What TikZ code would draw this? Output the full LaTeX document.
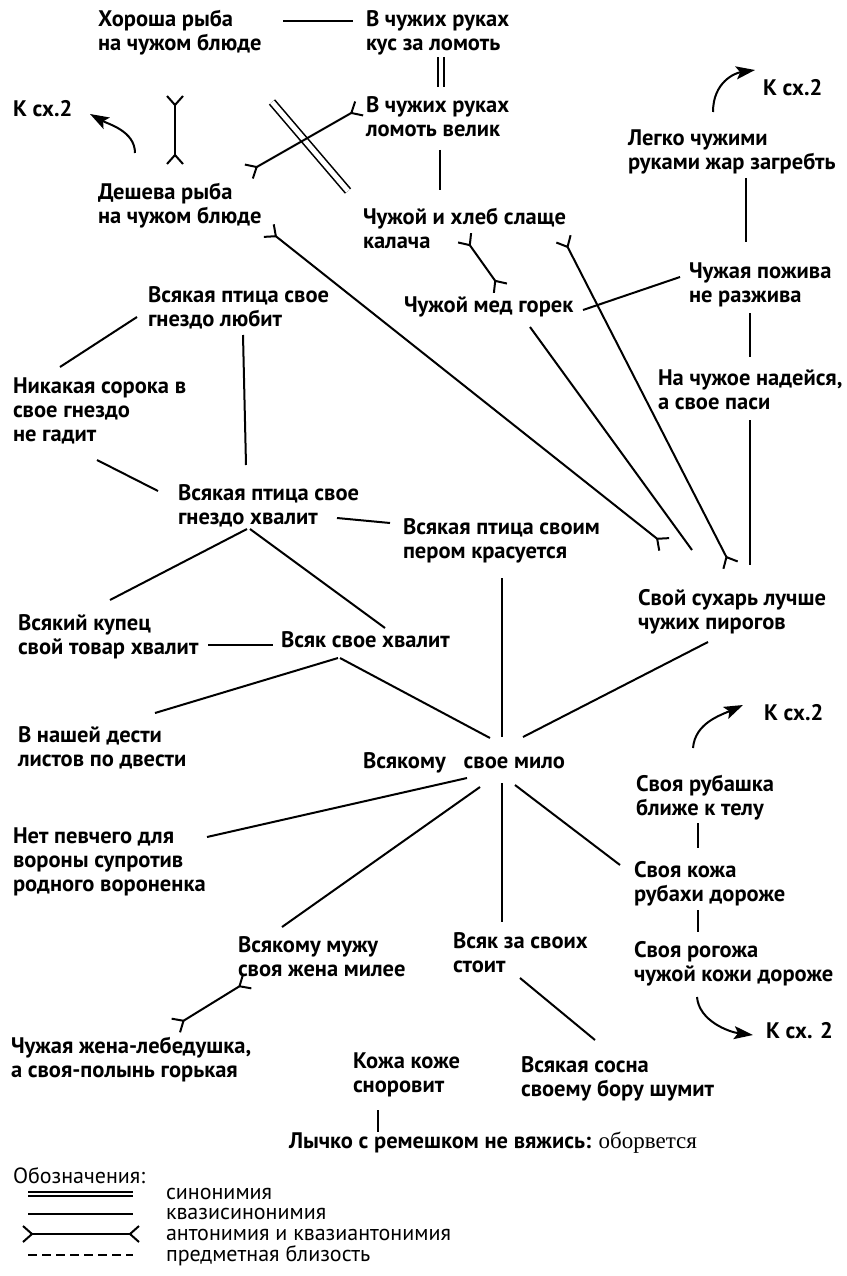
\documentclass[tikz,border=0pt]{standalone}
\usepackage{fontspec}
\setmainfont{PT Sans}
\newfontfamily\serifrm{Liberation Serif}
\usetikzlibrary{arrows.meta}

\begin{document}
\begin{tikzpicture}[x=1pt, y=-1pt, line width=2pt,
  every node/.style={anchor=base west, align=left, inner sep=0pt,
    font=\fontsize{22.5}{24}\selectfont\bfseries},
  syn/.style={double, double distance=5pt, line width=1.6pt},
  ant/.style={{Straight Barb[reversed,length=9pt,width=16pt]}-{Straight Barb[reversed,length=9pt,width=16pt]}},
  kurve/.style={-{Stealth[length=19pt,width=13pt,inset=4pt]}},
  legtext/.style={font=\fontsize{22}{24}\selectfont}]
\fill[white] (0,0) rectangle (846,1276);
\useasboundingbox (0,0) rectangle (846,1276);

%proverbs
\node (hor) at (97,51) {Хороша рыба\\на чужом блюде};
\node (kus) at (365,51) {В чужих руках\\кус за ломоть};
\node (lomot) at (365,137) {В чужих руках\\ломоть велик};
\node (deshev) at (97,223) {Дешева рыба\\на чужом блюде};
\node (hleb) at (362,248) {Чужой и хлеб слаще\\калача};
\node (legko) at (627,170) {Легко чужими\\руками жар загребть};
\node (med) at (403,312) {Чужой мед горек};
\node (pozh) at (688,302) {Чужая пожива\\не разжива};
\node (nadei) at (657,409) {На чужое надейся,\\а свое паси};
\node (lubit) at (147,326) {Всякая птица свое\\гнездо любит};
\node (soroka) at (12,441) {Никакая сорока в\\свое гнездо\\не гадит};
\node (hvalit) at (177,524) {Всякая птица свое\\гнездо хвалит};
\node (perom) at (402,558) {Всякая птица своим\\пером красуется};
\node (suhar) at (637,629) {Свой сухарь лучше\\чужих пирогов};
\node (kupec) at (17,654) {Всякий купец\\свой товар хвалит};
\node (vsyak) at (280,647) {Всяк свое хвалит};
\node (dest) at (17,766) {В нашей дести\\листов по двести};
\node (milo) at (362,768) {Всякому\hspace{18pt}свое мило};
\node (rubash) at (635,815) {Своя рубашка\\ближе к телу};
\node (pevch) at (12,891) {Нет певчего для\\вороны супротив\\родного вороненка};
\node (kozha) at (633,901) {Своя кожа\\рубахи дороже};
\node (muzh) at (237,976) {Всякому мужу\\своя жена милее};
\node (zasvoih) at (452,972) {Всяк за своих\\стоит};
\node (rogozh) at (633,981) {Своя рогожа\\чужой кожи дороже};
\node (lebed) at (10,1077) {Чужая жена-лебедушка,\\а своя-полынь горькая};
\node (kozhe) at (352,1092) {Кожа коже\\сноровит};
\node (sosna) at (520,1096) {Всякая сосна\\своему бору шумит};
\node (lychko) at (288,1148) {Лычко с ремешком не вяжись: {\serifrm\mdseries\fontsize{23}{24}\selectfont оборвется}};
\node (ksxL) at (12,117) {К сх.2};
\node (ksxT) at (762,96) {К сх.2};
\node (ksxM) at (763,720) {К сх.2};
\node (ksxB) at (765,1038) {К сх. 2};

%top
\draw ([shift={(186,-30)}]hor.base west) -- ([shift={(-12,-30)}]kus.base west);
\draw[syn, double distance=4pt] ([shift={(76,6)}]kus.base west) -- ([shift={(76,-50)}]lomot.base west);
\draw[ant] ([shift={(78,44)}]hor.base west) -- ([shift={(78,-58)}]deshev.base west);
\draw[syn] ([shift={(175,51)}]hor.base west) -- ([shift={(-14,-57)}]hleb.base west);
\draw[ant] ([shift={(151,-51)}]deshev.base west) -- ([shift={(-5,-29)}]lomot.base west);
\draw ([shift={(75,13)}]lomot.base west) -- ([shift={(78,-58)}]hleb.base west);
\draw[ant] ([shift={(171,7)}]deshev.base west) -- ([shift={(28,-84)}]suhar.base west);
\draw ([shift={(127,15)}]med.base west) -- ([shift={(55,-79)}]suhar.base west);
\draw[ant] ([shift={(201,-10)}]hleb.base west) -- ([shift={(94,-63)}]suhar.base west);
\draw[ant] ([shift={(102,-11)}]hleb.base west) -- ([shift={(98,-23)}]med.base west);
\draw ([shift={(180,-2)}]med.base west) -- ([shift={(-8,-25)}]pozh.base west);
\draw ([shift={(119,8)}]legko.base west) -- ([shift={(58,-60)}]pozh.base west);
\draw ([shift={(62,11)}]pozh.base west) -- ([shift={(93,-52)}]nadei.base west);
\draw ([shift={(93,11)}]nadei.base west) -- ([shift={(113,-64)}]suhar.base west);
\draw[kurve] ([shift={(86,-58)}]legko.base west) .. controls +(0,-30) and +(-20,3) .. ([shift={(-7,-26)}]ksxT.base west);
\draw[kurve] ([shift={(38,-70)}]deshev.base west) .. controls +(0,-22) and +(18,10) .. ([shift={(78,-3)}]ksxL.base west);

%middle
\draw ([shift={(48,-74)}]soroka.base west) -- ([shift={(-10,-9)}]lubit.base west);
\draw ([shift={(96,9)}]lubit.base west) -- ([shift={(69,-59)}]hvalit.base west);
\draw ([shift={(85,19)}]soroka.base west) -- ([shift={(-19,-33)}]hvalit.base west);
\draw ([shift={(160,-6)}]hvalit.base west) -- ([shift={(-12,-35)}]perom.base west);
\draw ([shift={(70,5)}]hvalit.base west) -- ([shift={(93,-54)}]kupec.base west);
\draw ([shift={(73,5)}]hvalit.base west) -- ([shift={(105,-19)}]vsyak.base west);
\draw ([shift={(191,-9)}]kupec.base west) -- ([shift={(-7,-2)}]vsyak.base west);
\draw ([shift={(58,11)}]vsyak.base west) -- ([shift={(138,-53)}]dest.base west);
\draw ([shift={(60,11)}]vsyak.base west) -- ([shift={(128,-30)}]milo.base west);
\draw ([shift={(100,20)}]perom.base west) -- ([shift={(140,-31)}]milo.base west);
\draw ([shift={(161,-31)}]milo.base west) -- ([shift={(71,13)}]suhar.base west);

%bottom
\draw ([shift={(105,10)}]milo.base west) -- ([shift={(195,-54)}]pevch.base west);
\draw ([shift={(118,19)}]milo.base west) -- ([shift={(45,-49)}]muzh.base west);
\draw ([shift={(140,15)}]milo.base west) -- ([shift={(50,-50)}]zasvoih.base west);
\draw ([shift={(153,17)}]milo.base west) -- ([shift={(-13,-36)}]kozha.base west);
\draw ([shift={(63,8)}]rubash.base west) -- ([shift={(65,-53)}]kozha.base west);
\draw ([shift={(65,9)}]kozha.base west) -- ([shift={(65,-49)}]rogozh.base west);
\draw ([shift={(68,6)}]zasvoih.base west) -- ([shift={(75,-56)}]sosna.base west);
\draw[ant] ([shift={(11,5)}]muzh.base west) -- ([shift={(165,-51)}]lebed.base west);
\draw ([shift={(26,18)}]kozhe.base west) -- ([shift={(90,-16)}]lychko.base west);
\draw[kurve] ([shift={(58,-67)}]rubash.base west) .. controls +(2,-25) and +(-22,10) .. ([shift={(-20,-15)}]ksxM.base west);
\draw[kurve] ([shift={(64,16)}]rogozh.base west) .. controls +(2,24) and +(-24,-3) .. ([shift={(-12,-3)}]ksxB.base west);

%legend
\node (oboz) at (12,1183) [font=\fontsize{22}{24}\selectfont] {Обозначения:};
\node[legtext] (lsyn) at (165,1199) {синонимия};
\node[legtext] (lkvazi) at (165,1219) {квазисинонимия};
\node[legtext] (lant) at (165,1240) {антонимия и квазиантонимия};
\node[legtext] (lpred) at (165,1261) {предметная близость};
\draw[syn, line width=1.4pt, double distance=2.5pt] ([shift={(-137,-5)}]lsyn.base west) -- +(105,0);
\draw ([shift={(-137,-5)}]lkvazi.base west) -- +(105,0);
\draw[ant] ([shift={(-143,-6)}]lant.base west) -- +(118,0);
\draw[dashed, dash pattern=on 9pt off 5pt] ([shift={(-137,-6)}]lpred.base west) -- +(105,0);
\end{tikzpicture}
\end{document}
